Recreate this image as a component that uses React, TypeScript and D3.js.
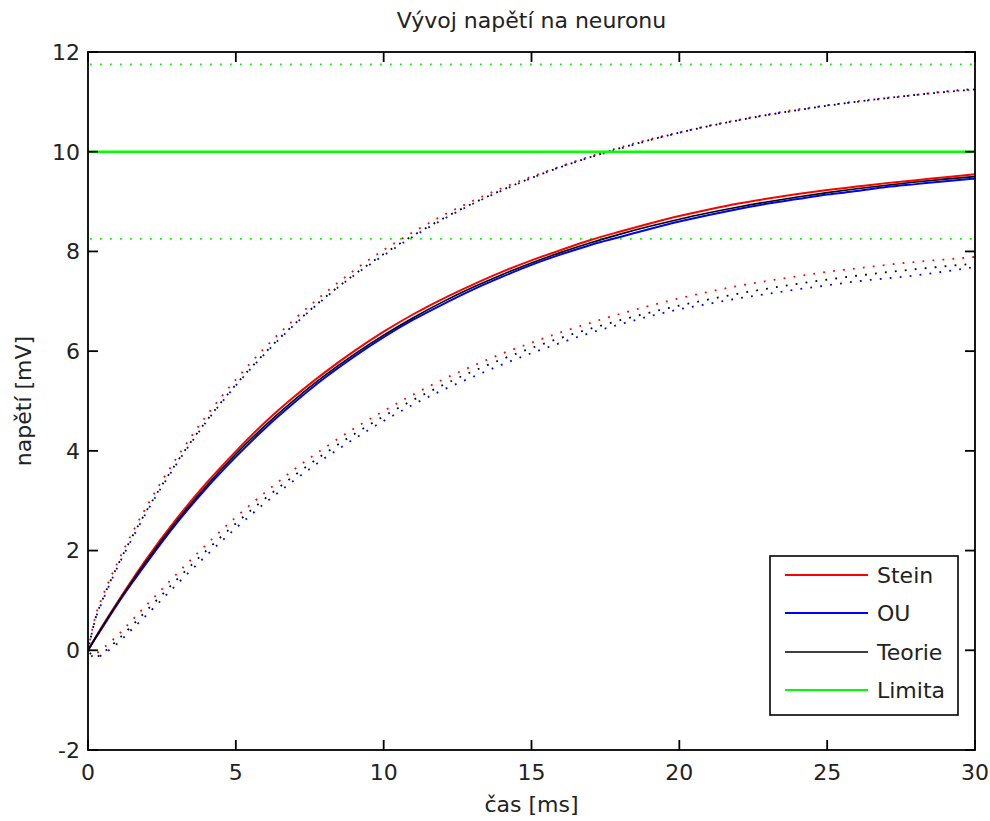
import React from "react";
import * as d3 from "d3";

const T = [0, 0.25, 0.5, 1, 1.5, 2, 3, 4, 5, 6, 7, 8, 9, 10, 11, 12, 13, 14, 15, 16, 17, 18, 19, 20, 21, 22, 23, 24, 25, 26, 27, 28, 29, 30];

const teorieMean = [0, 0.247, 0.488, 0.952, 1.393, 1.813, 2.592, 3.297, 3.935, 4.512, 5.034, 5.507, 5.934, 6.321, 6.671, 6.988, 7.275, 7.534, 7.769, 7.981, 8.173, 8.347, 8.504, 8.647, 8.775, 8.892, 8.997, 9.093, 9.179, 9.257, 9.328, 9.392, 9.45, 9.502];
const teorieUpper = [0, 0.634, 1.028, 1.697, 2.284, 2.818, 3.768, 4.596, 5.326, 5.975, 6.553, 7.07, 7.533, 7.948, 8.321, 8.657, 8.959, 9.23, 9.475, 9.695, 9.894, 10.073, 10.234, 10.381, 10.512, 10.631, 10.738, 10.836, 10.923, 11.002, 11.074, 11.139, 11.197, 11.25];
const teorieLower = [0, -0.14, -0.052, 0.207, 0.502, 0.808, 1.416, 1.998, 2.544, 3.049, 3.515, 3.944, 4.335, 4.694, 5.021, 5.319, 5.591, 5.838, 6.063, 6.267, 6.452, 6.621, 6.774, 6.913, 7.038, 7.153, 7.256, 7.35, 7.435, 7.512, 7.582, 7.645, 7.703, 7.754];

const steinMean = [0, 0.25, 0.5, 0.97, 1.42, 1.85, 2.64, 3.35, 3.99, 4.58, 5.1, 5.57, 6.0, 6.39, 6.74, 7.05, 7.33, 7.59, 7.82, 8.03, 8.23, 8.4, 8.56, 8.71, 8.84, 8.96, 9.06, 9.15, 9.23, 9.3, 9.37, 9.43, 9.49, 9.55];
const steinUpper = [0, 0.68, 1.09, 1.76, 2.36, 2.9, 3.86, 4.7, 5.43, 6.08, 6.65, 7.16, 7.62, 8.03, 8.39, 8.72, 9.01, 9.27, 9.5, 9.71, 9.91, 10.09, 10.25, 10.39, 10.52, 10.64, 10.75, 10.85, 10.93, 11.01, 11.08, 11.14, 11.2, 11.25];
const steinLower = [0, -0.06, 0.04, 0.3, 0.61, 0.92, 1.53, 2.12, 2.67, 3.17, 3.64, 4.06, 4.45, 4.8, 5.13, 5.43, 5.7, 5.95, 6.17, 6.38, 6.57, 6.75, 6.91, 7.06, 7.19, 7.31, 7.41, 7.5, 7.59, 7.66, 7.73, 7.79, 7.84, 7.89];

const ouMean = [0, 0.24, 0.47, 0.93, 1.36, 1.77, 2.55, 3.25, 3.88, 4.46, 4.98, 5.46, 5.89, 6.28, 6.63, 6.94, 7.23, 7.49, 7.73, 7.94, 8.13, 8.29, 8.45, 8.6, 8.73, 8.85, 8.96, 9.05, 9.14, 9.21, 9.29, 9.35, 9.41, 9.46];
const ouUpper = [0, 0.62, 1.0, 1.67, 2.25, 2.79, 3.74, 4.58, 5.31, 5.96, 6.54, 7.06, 7.52, 7.92, 8.3, 8.64, 8.95, 9.22, 9.47, 9.7, 9.89, 10.06, 10.23, 10.38, 10.52, 10.63, 10.74, 10.83, 10.93, 11.0, 11.07, 11.14, 11.21, 11.26];
const ouLower = [0, -0.16, -0.08, 0.14, 0.43, 0.72, 1.32, 1.9, 2.45, 2.96, 3.42, 3.85, 4.24, 4.6, 4.93, 5.22, 5.48, 5.73, 5.96, 6.17, 6.37, 6.54, 6.7, 6.84, 6.95, 7.06, 7.15, 7.24, 7.32, 7.4, 7.46, 7.52, 7.6, 7.69];

const limita = 10;
const limitaBand = [8.25, 11.75];

const xTicks = [0, 5, 10, 15, 20, 25, 30];
const yTicks = [-2, 0, 2, 4, 6, 8, 10, 12];

const legendLabels = ["Stein", "OU", "Teorie", "Limita"];
const legendColors = ["#ff0000", "#0000ff", "#000000", "#00ff00"];

export default function App() {
  const W = 990, H = 821;
  const L = 88, R = 975, Tp = 52, B = 750;
  const x = d3.scaleLinear().domain([0, 30]).range([L, R]);
  const y = d3.scaleLinear().domain([-2, 12]).range([B, Tp]);
  const line = (vals: number[]) =>
    d3.line<number>().x((_, i) => x(T[i])).y((v) => y(v)).curve(d3.curveMonotoneX)(vals) as string;
  const font = "'DejaVu Sans', sans-serif";
  const fs = 22;
  const dots = "1.8 8.2";
  const tickLen = 10;

  const lgX = 770, lgY = 556, lgW = 188, lgH = 159;
  const lgRowY = [575, 613, 652, 690];

  return (
    <svg width={W} height={H} style={{ position: "absolute", left: 0, top: 0, background: "#fff" }}>
      <rect x={0} y={0} width={W} height={H} fill="#fff" />
      <defs>
        <clipPath id="plotClip">
          <rect x={L} y={Tp} width={R - L} height={B - Tp} />
        </clipPath>
      </defs>
      <g clipPath="url(#plotClip)" fill="none">
        {limitaBand.map((v, i) => (
          <line key={i} x1={x(0) + 2} x2={x(30)} y1={y(v)} y2={y(v)} stroke="#00ff00" strokeWidth={1.8} strokeDasharray={dots} />
        ))}
        <path d={line(steinUpper)} stroke="#ff0000" strokeWidth={1.8} strokeDasharray={dots} />
        <path d={line(steinLower)} stroke="#ff0000" strokeWidth={1.8} strokeDasharray={dots} />
        <path d={line(ouUpper)} stroke="#0000ff" strokeWidth={1.8} strokeDasharray={dots} strokeDashoffset={4} />
        <path d={line(ouLower)} stroke="#0000ff" strokeWidth={1.8} strokeDasharray={dots} strokeDashoffset={4} />
        <path d={line(teorieUpper)} stroke="#000000" strokeWidth={1.8} strokeDasharray={dots} strokeDashoffset={7} />
        <path d={line(teorieLower)} stroke="#000000" strokeWidth={1.8} strokeDasharray={dots} strokeDashoffset={7} />
        <path d={line(steinMean)} stroke="#ff0000" strokeWidth={2} />
        <path d={line(ouMean)} stroke="#0000ff" strokeWidth={2} />
        <path d={line(teorieMean)} stroke="#000000" strokeWidth={1.6} />
        <line x1={x(0)} x2={x(30)} y1={y(limita)} y2={y(limita)} stroke="#00ff00" strokeWidth={2.5} />
      </g>
      {/* axes box */}
      <rect x={L} y={Tp} width={R - L} height={B - Tp} fill="none" stroke="#000" strokeWidth={1.8} />
      {xTicks.map((t) => (
        <g key={"x" + t}>
          <line x1={x(t)} x2={x(t)} y1={B} y2={B - tickLen} stroke="#000" strokeWidth={1.8} />
          <line x1={x(t)} x2={x(t)} y1={Tp} y2={Tp + tickLen} stroke="#000" strokeWidth={1.8} />
          <text x={x(t)} y={B + 30} textAnchor="middle" fontFamily={font} fontSize={fs} fill="#222">{t}</text>
        </g>
      ))}
      {yTicks.map((t) => (
        <g key={"y" + t}>
          <line x1={L} x2={L + tickLen} y1={y(t)} y2={y(t)} stroke="#000" strokeWidth={1.8} />
          <line x1={R} x2={R - tickLen} y1={y(t)} y2={y(t)} stroke="#000" strokeWidth={1.8} />
          <text x={L - 8} y={y(t)} dy="0.36em" textAnchor="end" fontFamily={font} fontSize={fs} fill="#222">{t}</text>
        </g>
      ))}
      <text x={(L + R) / 2} y={28} textAnchor="middle" fontFamily={font} fontSize={fs} fill="#222">Vývoj napětí na neuronu</text>
      <text x={(L + R) / 2} y={812} textAnchor="middle" fontFamily={font} fontSize={fs} fill="#222">čas [ms]</text>
      <text transform={`translate(31, ${(Tp + B) / 2}) rotate(-90)`} textAnchor="middle" fontFamily={font} fontSize={fs} fill="#222">napětí [mV]</text>
      {/* legend */}
      <rect x={lgX} y={lgY} width={lgW} height={lgH} fill="#fff" stroke="#000" strokeWidth={1.6} />
      {legendLabels.map((lab, i) => (
        <g key={lab}>
          <line x1={785} x2={868} y1={lgRowY[i]} y2={lgRowY[i]} stroke={legendColors[i]} strokeWidth={lab === "Teorie" ? 1.6 : 2} />
          <text x={877} y={lgRowY[i]} dy="0.36em" fontFamily={font} fontSize={fs} fill="#222">{lab}</text>
        </g>
      ))}
    </svg>
  );
}
